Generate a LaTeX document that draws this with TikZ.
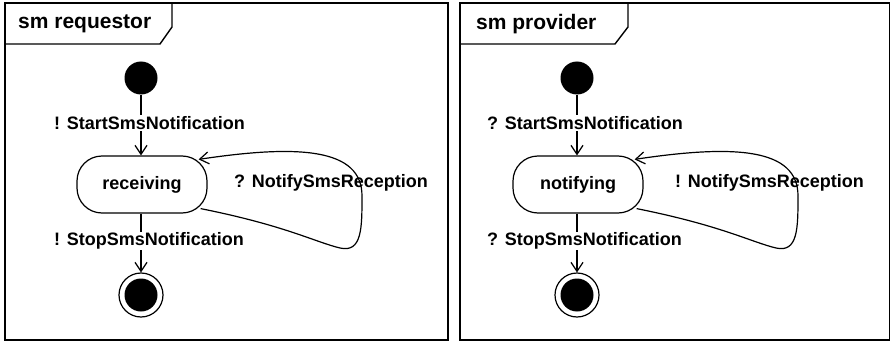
\documentclass[tikz,border=0pt]{standalone}
\usepackage{fontspec}
\setmainfont{Liberation Sans}
\usetikzlibrary{arrows.meta}
\begin{document}
\begin{tikzpicture}[x=1pt,y=-1pt,
  frame/.style={line width=1.4pt},
  lbl/.style={font=\fontsize{18}{20}\selectfont\bfseries, inner sep=1pt, anchor=west},
  lblw/.style={lbl, fill=white},
  ttl/.style={font=\fontsize{21}{24}\selectfont\bfseries, inner sep=0pt, anchor=west},
  statebox/.style={draw, line width=1.2pt, rounded corners=25pt, minimum width=130pt, minimum height=57pt, inner sep=0pt, font=\fontsize{18}{20}\selectfont\bfseries},
  initst/.style={circle, fill=black, minimum size=33pt, inner sep=0pt},
  finalring/.style={circle, draw, line width=1.2pt, minimum size=44pt, inner sep=0pt},
  finaldot/.style={circle, fill=black, minimum size=33pt, inner sep=0pt},
  conn/.style={line width=1.2pt},
  arr/.style={conn, -{Straight Barb[length=9pt,width=12pt]}}
]
\useasboundingbox (0,0) rectangle (891,342);

% ---------- left panel ----------
\draw[frame] (5,3) rectangle (448,340);
\draw[frame] (5,44) -- (160,44) -- (172,27) -- (172,3);
\node[ttl] (t1) at (18,24) {sm requestor};

\node[initst] (i1) at (141,78) {};
\node[statebox] (s1) at (142,184.5) {receiving};
\node[finalring] (f1) at (141,295) {};
\node[finaldot] (fd1) at (f1.center) {};

\draw[arr] (i1) -- (s1.north -| i1);
\node[lblw] (l1a) at (53,123) {! StartSmsNotification};
\draw[arr] (s1.south -| f1) -- (f1.north);
\node[lblw] (l1b) at (53,241) {! StopSmsNotification};

\coordinate (b1) at (340,248);
\coordinate (r1) at (362,196);
\draw[arr] ([shift={(-7,-5)}]s1.south east) .. controls +(85,17) and +(-25,-6) .. (b1)
  .. controls +(22,5) and +(0,32) .. (r1)
  .. controls +(0,-48) and +(100,-15) .. ([shift={(-9,4)}]s1.north east);
\node[lbl] (l1c) at (233,183) {? NotifySmsReception};

% ---------- right panel ----------
\draw[frame] (460,3) rectangle (889.5,340);
\draw[frame] (460,44) -- (615,44) -- (628,27) -- (628,3);
\node[ttl] (t2) at (476,24) {sm provider};

\node[initst] (i2) at (577,78) {};
\node[statebox] (s2) at (578,184.5) {notifying};
\node[finalring] (f2) at (577,295) {};
\node[finaldot] (fd2) at (f2.center) {};

\draw[arr] (i2) -- (s2.north -| i2);
\node[lblw] (l2a) at (486,123) {? StartSmsNotification};
\draw[arr] (s2.south -| f2) -- (f2.north);
\node[lblw] (l2b) at (486,241) {? StopSmsNotification};

\coordinate (b2) at (776,248);
\coordinate (r2) at (798,196);
\draw[arr] ([shift={(-7,-5)}]s2.south east) .. controls +(85,17) and +(-25,-6) .. (b2)
  .. controls +(22,5) and +(0,32) .. (r2)
  .. controls +(0,-48) and +(100,-15) .. ([shift={(-9,4)}]s2.north east);
\node[lbl] (l2c) at (674,183) {! NotifySmsReception};
\end{tikzpicture}
\end{document}
